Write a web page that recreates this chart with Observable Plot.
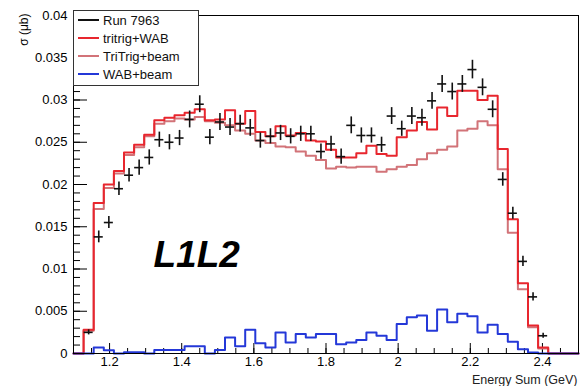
<!DOCTYPE html>
<html>
<head>
<meta charset="utf-8">
<script src="https://cdn.jsdelivr.net/npm/d3@7"></script>
<script src="https://cdn.jsdelivr.net/npm/@observablehq/plot@0.6"></script>
<style>
  html, body { margin: 0; padding: 0; background: #fff; }
  #wrap { position: relative; width: 580px; height: 386px; font-family: "Liberation Sans", Arial, sans-serif; }
  #legend { position: absolute; left: 73px; top: 10px; width: 126px; height: 76px; background: #fff; border: 1px solid #333; box-sizing: border-box; padding-top: 0px; }
  .row { display: flex; align-items: center; height: 18px; font-size: 13px; color: #111; }
  .row svg { margin-left: 4px; margin-right: 4px; }
</style>
</head>
<body>
<div id="wrap"></div>
<script>
// Energy-sum histogram: 50 bins of 0.028 GeV from 1.1 to 2.5 GeV
const binStart = 1.1;
const binWidth = 0.028;

// Run 7963 data points (null = empty bin) and their vertical error bars
const runRate = [null, 0.0025, 0.0138, 0.0155, 0.0195, 0.0211, 0.0220, 0.0232, 0.0253, 0.0250,
  0.0255, 0.0277, 0.0295, 0.0256, 0.0274, 0.0268, 0.0272, 0.0267, 0.0252, 0.0257,
  0.0261, 0.0257, 0.0260, 0.0260, 0.0239, 0.0248, 0.0233, 0.0270, 0.0258, 0.0258,
  0.0247, 0.0281, 0.0266, 0.0281, 0.0279, 0.0299, 0.0319, 0.0310, 0.0319, 0.0336,
  0.0315, 0.0289, 0.0206, 0.0166, 0.0109, 0.0067, 0.0021, null, null, null];
const runErr = [0, 0.0003, 0.0007, 0.0007, 0.0008, 0.0008, 0.0009, 0.0009, 0.0009, 0.0009,
  0.0009, 0.001, 0.001, 0.0009, 0.001, 0.001, 0.001, 0.001, 0.0009, 0.0009,
  0.0009, 0.0009, 0.0009, 0.0009, 0.0009, 0.0009, 0.0009, 0.001, 0.0009, 0.0009,
  0.0009, 0.001, 0.0009, 0.001, 0.001, 0.001, 0.001, 0.001, 0.001, 0.0011,
  0.001, 0.001, 0.0008, 0.0007, 0.0006, 0.0005, 0.0003, 0, 0, 0];

// Simulation histograms
const tritrigWab = [0, 0.0028, 0.0178, 0.0200, 0.0216, 0.0238, 0.0247, 0.0259, 0.0276, 0.0279,
  0.0282, 0.0285, 0.0289, 0.0276, 0.0277, 0.0288, 0.0272, 0.0287, 0.0262, 0.0257,
  0.0269, 0.0258, 0.0261, 0.0252, 0.0251, 0.0241, 0.0232, 0.0232, 0.0237, 0.0246,
  0.0236, 0.0234, 0.0256, 0.0264, 0.0274, 0.0265, 0.0291, 0.0281, 0.0311, 0.0311,
  0.0300, 0.0305, 0.0242, 0.0159, 0.0083, 0.0033, 0.0007, 0, 0, 0];
const tritrigBeam = [0, 0.0027, 0.0171, 0.0196, 0.0213, 0.0235, 0.0244, 0.0257, 0.0272, 0.0275,
  0.0278, 0.0277, 0.0280, 0.0275, 0.0273, 0.0270, 0.0264, 0.0260, 0.0252, 0.0249,
  0.0245, 0.0244, 0.0239, 0.0234, 0.0229, 0.0219, 0.0221, 0.0220, 0.0221, 0.0221,
  0.0215, 0.0218, 0.0221, 0.0223, 0.0230, 0.0237, 0.0241, 0.0245, 0.0264, 0.0266,
  0.0275, 0.0270, 0.0218, 0.0143, 0.0076, 0.0031, 0.0006, 0, 0, 0];
const wabBeam = [0, 0, 0.00072, 0.00038, 0, 0.00015, 0.00015, 0, 0.0004, 0.0004,
  0.0004, 0.00087, 0.00087, 0, 0.0004, 0.0019, 0.00087, 0.0028, 0.0012, 0.0007,
  0.0025, 0.0013, 0.0023, 0.0019, 0.0023, 0.0023, 0.0011, 0.0013, 0.0016, 0.0025,
  0.0021, 0.0016, 0.0035, 0.0043, 0.0045, 0.0027, 0.0052, 0.0037, 0.0047, 0.0044,
  0.0025, 0.0034, 0.0023, 0.0014, 0.0005, 0.00012, 0, 0, 0, 0];

// Axis ticks and labels
const yMajor = [0, 0.005, 0.01, 0.015, 0.02, 0.025, 0.03, 0.035, 0.04];
const yLabels = ["0", "0.005", "0.01", "0.015", "0.02", "0.025", "0.03", "0.035", "0.04"];
const xMajor = [1.2, 1.4, 1.6, 1.8, 2.0, 2.2, 2.4];
const xLabels = ["1.2", "1.4", "1.6", "1.8", "2", "2.2", "2.4"];
const yMinor = d3.range(0, 0.0405, 0.001);
const xMinor = d3.range(1.1, 2.501, 0.05);

const colors = { run: "#111111", tw: "#e8262e", tb: "#d27378", wab: "#2438d8" };

// Step outline: one point per lower bin edge plus the closing upper edge
function steps(values) {
  const pts = values.map((v, i) => ({ x: binStart + i * binWidth, y: v }));
  pts.push({ x: binStart + values.length * binWidth, y: values[values.length - 1] });
  return pts;
}
const points = runRate
  .map((v, i) => ({ x: binStart + (i + 0.5) * binWidth, y: v, e: runErr[i] }))
  .filter(d => d.y != null);

const W = 580, H = 386, mL = 73, mR = 2, mT = 15, mB = 33;
const plotW = W - mL - mR, plotH = H - mT - mB;
const halfX = 0.0125;

const chart = Plot.plot({
  width: W,
  height: H,
  marginLeft: mL,
  marginRight: mR,
  marginTop: mT,
  marginBottom: mB,
  style: { fontFamily: "Liberation Sans, Arial, sans-serif", fontSize: "13px", color: "#000", background: "#fff" },
  x: { domain: [1.1, 2.5] },
  y: { domain: [0, 0.04] },
  marks: [
    // inward ticks
    Plot.tickY(yMinor, { y: d => d, insetRight: plotW - 7, stroke: "#000" }),
    Plot.tickY(yMajor, { y: d => d, insetRight: plotW - 14, stroke: "#000" }),
    Plot.tickX(xMinor, { x: d => d, insetTop: plotH - 5, stroke: "#000" }),
    Plot.tickX(xMajor, { x: d => d, insetTop: plotH - 10, stroke: "#000" }),
    // histograms
    Plot.line(steps(tritrigBeam), { x: "x", y: "y", curve: "step-after", stroke: colors.tb, strokeWidth: 2 }),
    Plot.line(steps(tritrigWab), { x: "x", y: "y", curve: "step-after", stroke: colors.tw, strokeWidth: 2 }),
    Plot.line(steps(wabBeam), { x: "x", y: "y", curve: "step-after", stroke: colors.wab, strokeWidth: 2 }),
    // data points with error bars
    Plot.ruleX(points, { x: "x", y1: d => d.y - d.e, y2: d => d.y + d.e, stroke: colors.run, strokeWidth: 1.6 }),
    Plot.ruleY(points, { y: "y", x1: d => d.x - halfX, x2: d => d.x + halfX, stroke: colors.run, strokeWidth: 1.6 }),
    Plot.frame({ stroke: "#000", strokeWidth: 1 }),
    // axes
    Plot.axisY(yMajor, { tickSize: 0, tickPadding: 6, tickFormat: (d, i) => yLabels[i], label: null, fontSize: 13 }),
    Plot.axisX(xMajor, { tickSize: 0, tickPadding: 3, tickFormat: (d, i) => xLabels[i], label: null, fontSize: 13 }),
    // titles
    Plot.text(["σ (μb)"], { frameAnchor: "top-left", text: d => d, rotate: -90, textAnchor: "end", dx: -54, dy: -2, fontSize: 12 }),
    Plot.text(["Energy Sum (GeV)"], { frameAnchor: "bottom-right", text: d => d, textAnchor: "end", lineAnchor: "bottom", dx: -1, dy: 30, fontSize: 12.5, fill: "#222" }),
    Plot.text(["L1L2"], { frameAnchor: "top-left", text: d => d, textAnchor: "start", dx: 80, dy: 225, fontSize: 37, fontWeight: "bold", fontStyle: "italic" })
  ]
});

const wrap = document.getElementById("wrap");
wrap.appendChild(chart);

// Legend box drawn over the upper-left corner of the frame
const entries = [
  { label: "Run 7963", color: colors.run },
  { label: "tritrig+WAB", color: colors.tw },
  { label: "TriTrig+beam", color: colors.tb },
  { label: "WAB+beam", color: colors.wab }
];
const legend = document.createElement("div");
legend.id = "legend";
for (const e of entries) {
  const row = document.createElement("div");
  row.className = "row";
  row.innerHTML = `<svg width="21" height="4"><line x1="0" x2="21" y1="2" y2="2" stroke="${e.color}" stroke-width="2"/></svg><span>${e.label}</span>`;
  legend.appendChild(row);
}
wrap.appendChild(legend);
</script>
</body>
</html>
